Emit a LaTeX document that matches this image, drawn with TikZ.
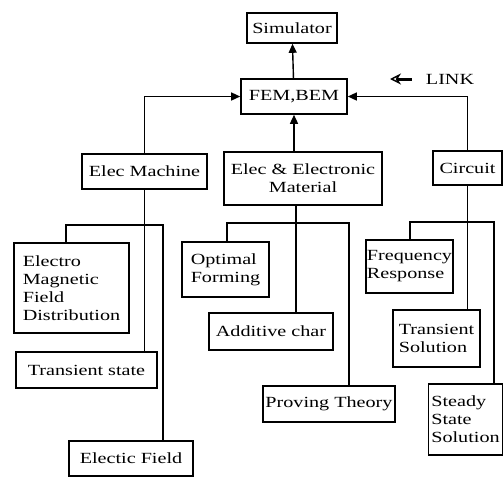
\documentclass[tikz,border=0pt]{standalone}
\usepackage{fontspec}
\setmainfont[FakeStretch=1.3]{Liberation Serif}
\usetikzlibrary{arrows.meta}
\tikzset{
  chart/.style={x=1pt, y=-1pt, line width=1.4pt},
  box/.style={
    draw,
    line width=1.6pt,
    inner sep=1pt,
    align=center,
    font=\fontsize{15.5}{18}\selectfont
  },
  boxl/.style={box, align=left},
  feed/.style={-{Triangle[length=9pt, width=8pt]}},
  linkarrow/.style={line width=3pt,
    -{Stealth[open, line width=1.4pt, length=11pt, width=11pt]}}
}

\begin{document}
\begin{tikzpicture}[chart]
  \useasboundingbox (0,0) rectangle (503,477);
  % top of the tree
  \node[box, minimum width=90pt, minimum height=30pt] (sim) at (292,28) {Simulator};
  \node[box, minimum width=106pt, minimum height=35pt] (fem) at (294,96.5) {FEM,BEM};
  \node[font=\fontsize{15.5}{18}\selectfont] (link) at (450,79) {LINK};
  \coordinate (linktip) at (390,79);
  \draw[linkarrow, shorten <=10pt] (link.west) -- (linktip);
  % the three fields
  \node[box, minimum width=125pt, minimum height=35pt] (mach) at (144.5,171.5) {Elec Machine};
  \node[box, minimum width=158pt, minimum height=53pt] (mat) at (303,178.5) {Elec \& Electronic\\Material};
  \node[box, minimum width=69pt, minimum height=34pt] (circ) at (467.5,168) {Circuit};
  % machine branch
  \node[boxl, minimum width=115pt, minimum height=90pt] (emf) at (71.5,288) {Electro\\Magnetic\\Field\\Distribution};
  \node[box, minimum width=141pt, minimum height=36pt] (trs) at (86.5,370) {Transient state};
  \node[box, minimum width=124pt, minimum height=35pt] (ef) at (131,458.5) {Electic Field};
  % material branch
  \node[boxl, minimum width=87pt, minimum height=55pt] (opt) at (225.5,269.5) {Optimal\\Forming};
  \node[box, minimum width=124pt, minimum height=37pt] (add) at (271,331.5) {Additive char};
  \node[box, minimum width=132pt, minimum height=36pt] (prv) at (329,404) {Proving Theory};
  % circuit branch
  \node[boxl, minimum width=87pt, minimum height=53pt] (frq) at (409.5,266.5) {Frequency\\Response};
  \node[boxl, minimum width=87pt, minimum height=57pt] (tsol) at (436.5,338.5) {Transient\\Solution};
  \node[boxl, minimum width=74pt, minimum height=71pt] (ssol) at (465.5,419.5) {Steady\\State\\Solution};

  \draw[feed] (fem) -- (sim);
  \draw[feed] (mat.north -| fem) -- (fem.south);
  \draw[feed] (mach.north) |- (fem.west);
  \draw[feed] (circ.north) |- (fem.east);

  \coordinate (mL) at (66,225);
  \coordinate (mR) at (163,225);
  \draw (mach.south) -- (mach.south |- trs.north);
  \draw (emf.north -| mL) -- (mL) -- (mR) -- (ef.north -| mR);

  \coordinate (aL) at (227,223);
  \coordinate (aT) at (296,223);
  \coordinate (aR) at (349,223);
  \draw (mat.south -| aT) -- (add.north -| aT);
  \draw (opt.north -| aL) -- (aL) -- (aR) -- (prv.north -| aR);

  \coordinate (cL) at (410,222);
  \coordinate (cR) at (494,222);
  \draw (circ.south) -- (circ.south |- tsol.north);
  \draw (frq.north -| cL) -- (cL) -- (cR) -- (ssol.north -| cR);
\end{tikzpicture}
\end{document}
